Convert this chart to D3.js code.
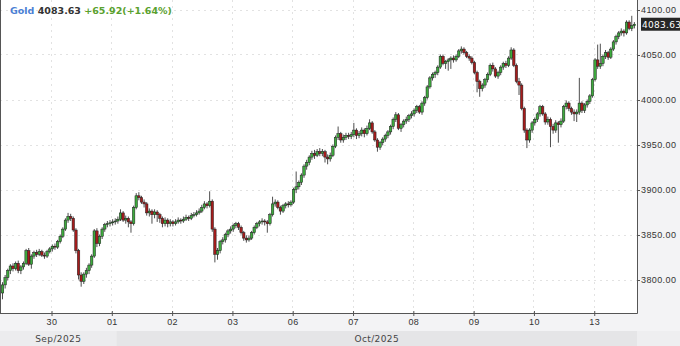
<!DOCTYPE html>
<html>
<head>
<meta charset="utf-8">
<script src="https://cdn.jsdelivr.net/npm/d3@7"></script>
<style>
  body { margin: 0; background: #fff; }
  svg { display: block; font-family: "DejaVu Sans", Verdana, sans-serif; }
</style>
</head>
<body>
<div id="chart"></div>
<script>
// hourly candles, [open, high, low, close]
const sep29 = [
  [3785,3797,3778,3794],[3794,3805,3790,3802],[3802,3812,3799,3810],[3810,3817,3806,3815],
  [3815,3818,3809,3812],[3812,3820,3810,3818],[3818,3821,3807,3810],[3810,3816,3806,3814],
  [3814,3820,3811,3818],[3818,3834,3816,3832],[3832,3835,3815,3817],[3817,3828,3812,3826],
  [3826,3832,3823,3830],[3830,3833,3825,3828],[3828,3834,3826,3831],[3831,3833,3825,3827],
  [3827,3830,3823,3826],[3826,3833,3824,3831],[3831,3836,3829,3834]
];
const sep30 = [
  [3834,3839,3831,3837],[3837,3840,3833,3836],[3836,3844,3834,3842],[3842,3850,3840,3848],
  [3848,3858,3846,3856],[3856,3868,3854,3866],[3866,3874,3863,3870],[3870,3873,3865,3868],
  [3868,3870,3853,3855],[3855,3857,3829,3832],[3832,3834,3800,3805],[3805,3808,3792,3798],
  [3798,3808,3795,3806],[3806,3813,3802,3810],[3810,3818,3806,3816],[3816,3828,3813,3826],
  [3826,3856,3824,3854],[3854,3857,3836,3840],[3840,3850,3837,3848],[3848,3858,3845,3856],
  [3856,3863,3853,3861],[3861,3865,3858,3862],[3862,3866,3859,3863]
];
const oct01 = [
  [3863,3867,3860,3864],[3864,3868,3861,3865],[3865,3870,3862,3867],[3867,3878,3865,3874],
  [3874,3876,3864,3866],[3866,3871,3862,3868],[3868,3870,3858,3864],[3864,3866,3852,3862],
  [3862,3882,3860,3880],[3880,3896,3878,3893],[3893,3897,3888,3891],[3891,3893,3884,3886],
  [3886,3889,3880,3884],[3884,3886,3871,3874],[3874,3879,3870,3876],[3876,3878,3862,3872],
  [3872,3878,3868,3875],[3875,3877,3864,3872],[3872,3874,3863,3868],[3868,3870,3858,3862],
  [3862,3869,3859,3866],[3866,3868,3858,3862],[3862,3867,3859,3864]
];
const oct02 = [
  [3864,3866,3859,3862],[3862,3867,3860,3864],[3864,3869,3862,3866],[3866,3868,3862,3865],
  [3865,3870,3863,3867],[3867,3872,3865,3869],[3869,3871,3865,3868],[3868,3874,3866,3871],
  [3871,3875,3869,3872],[3872,3877,3870,3874],[3874,3879,3872,3876],[3876,3883,3874,3880],
  [3880,3887,3878,3884],[3884,3886,3879,3882],[3882,3898,3880,3887],[3887,3889,3853,3856],
  [3856,3858,3819,3828],[3828,3835,3822,3832],[3832,3844,3829,3842],[3842,3847,3839,3844],
  [3844,3852,3841,3850],[3850,3856,3847,3854],[3854,3859,3851,3856]
];
const oct03 = [
  [3856,3862,3853,3860],[3860,3864,3857,3862],[3862,3864,3855,3858],[3858,3860,3850,3852],
  [3852,3854,3843,3846],[3846,3849,3841,3844],[3844,3849,3842,3846],[3846,3854,3844,3852],
  [3852,3860,3850,3858],[3858,3864,3856,3862],[3862,3866,3859,3864],[3864,3868,3861,3865],
  [3865,3867,3860,3864],[3864,3866,3852,3862],[3862,3874,3860,3872],[3872,3892,3870,3884],
  [3884,3889,3881,3886],[3886,3888,3878,3880],[3880,3882,3872,3876],[3876,3884,3874,3882],
  [3882,3886,3879,3884],[3884,3887,3880,3883],[3883,3888,3881,3886]
];
const oct06 = [
  [3886,3902,3884,3900],[3900,3920,3896,3903],[3903,3910,3900,3908],[3908,3918,3905,3916],
  [3916,3928,3913,3926],[3926,3933,3922,3930],[3930,3938,3927,3936],[3936,3943,3933,3940],
  [3940,3944,3934,3938],[3938,3945,3936,3942],[3942,3946,3937,3940],[3940,3945,3937,3942],
  [3942,3944,3930,3936],[3936,3939,3928,3934],[3934,3941,3931,3938],[3938,3950,3936,3948],
  [3948,3960,3946,3958],[3958,3970,3955,3962],[3962,3964,3952,3955],[3955,3961,3952,3958],
  [3958,3963,3955,3960],[3960,3963,3956,3959],[3959,3964,3956,3961]
];
const oct07 = [
  [3961,3974,3958,3966],[3966,3968,3956,3960],[3960,3965,3957,3962],[3962,3969,3959,3966],
  [3966,3968,3958,3962],[3962,3971,3960,3968],[3968,3978,3966,3974],[3974,3976,3962,3964],
  [3964,3966,3953,3955],[3955,3957,3942,3947],[3947,3954,3944,3952],[3952,3958,3949,3956],
  [3956,3962,3953,3960],[3960,3966,3957,3964],[3964,3972,3961,3970],[3970,3980,3967,3978],
  [3978,3986,3975,3983],[3983,3985,3966,3968],[3968,3974,3964,3972],[3972,3978,3969,3976],
  [3976,3981,3973,3978],[3978,3984,3975,3982],[3982,3987,3979,3984]
];
const oct08 = [
  [3984,3990,3981,3988],[3988,3994,3985,3992],[3992,3994,3984,3986],[3986,3998,3983,3996],
  [3996,4004,3993,4002],[4002,4016,4000,4014],[4014,4026,4012,4024],[4024,4030,4021,4028],
  [4028,4032,4024,4030],[4030,4038,4027,4036],[4036,4050,4034,4048],[4048,4050,4038,4040],
  [4040,4044,4034,4042],[4042,4046,4032,4044],[4044,4048,4034,4046],[4046,4049,4041,4044],
  [4044,4050,4042,4048],[4048,4056,4046,4054],[4054,4059,4051,4056],[4056,4058,4050,4052],
  [4052,4054,4046,4048],[4048,4050,4043,4046],[4046,4048,4039,4041]
];
const oct09 = [
  [4041,4043,4028,4030],[4030,4032,4008,4020],[4020,4022,4003,4012],[4012,4018,4009,4016],
  [4016,4024,4013,4022],[4022,4030,4019,4028],[4028,4040,4026,4038],[4038,4041,4031,4034],
  [4034,4036,4024,4026],[4026,4032,4023,4030],[4030,4038,4027,4036],[4036,4042,4033,4040],
  [4040,4043,4035,4038],[4038,4048,4036,4046],[4046,4058,4044,4055],[4055,4057,4036,4038],
  [4038,4040,4018,4020],[4020,4024,4005,4016],[4016,4018,3988,3990],[3990,3992,3963,3966],
  [3966,3968,3946,3955],[3955,3968,3952,3966],[3966,3976,3963,3974]
];
const oct10 = [
  [3974,3980,3971,3978],[3978,3986,3975,3984],[3984,3994,3981,3992],[3992,3994,3982,3984],
  [3984,3986,3972,3975],[3975,3981,3972,3978],[3978,3980,3947,3970],[3970,3973,3962,3966],
  [3966,3977,3963,3974],[3974,3976,3952,3972],[3972,3979,3969,3976],[3976,3994,3974,3992],
  [3992,3999,3989,3996],[3996,3998,3987,3990],[3990,3992,3983,3986],[3986,3989,3976,3984],
  [3984,3989,3975,3986],[3986,4024,3983,3996],[3996,3998,3985,3988],[3988,3996,3985,3994],
  [3994,4000,3991,3998],[3998,4006,3995,4004],[4004,4024,4002,4022]
];
const oct13 = [
  [4022,4046,4020,4044],[4044,4061,4034,4037],[4037,4062,4034,4040],[4040,4050,4037,4048],
  [4048,4055,4045,4052],[4052,4054,4044,4047],[4047,4058,4045,4056],[4056,4066,4054,4064],
  [4064,4072,4061,4070],[4070,4076,4067,4074],[4074,4079,4071,4076],[4076,4078,4070,4074],
  [4074,4088,4072,4086],[4086,4088,4077,4079],[4079,4093,4076,4082],[4082,4086,4079,4083.63]
];

const days = [sep29, sep30, oct01, oct02, oct03, oct06, oct07, oct08, oct09, oct10, oct13];
const dayLabels = ["", "30", "01", "02", "03", "06", "07", "08", "09", "10", "13"];
const monthLabels = ["Sep/2025", "Oct/2025"];
const monthStartDay = [0, 2];   // index into days
const monthStartHour = [0, 2];  // candle offset inside that day
const yTicks = [3800, 3850, 3900, 3950, 4000, 4050, 4100];
const symbol = "Gold";
const lastPrice = 4083.63;
const change = 65.92;
const changePct = 1.64;

const W = 680, H = 346;
const plotR = 637, plotB = 313;

// flatten candles, remember where each day starts
const candles = [];
const dayStarts = [];
days.forEach(d => {
  dayStarts.push(candles.length);
  d.forEach(c => candles.push({ o: c[0], h: c[1], l: c[2], c: c[3] }));
});
const n = candles.length;

const x = d3.scaleLinear().domain([0, n]).range([1.2, 635.7]);
const y = d3.scaleLinear().domain([3800, 4100]).range([279.5, 9.5]);

const svg = d3.select('#chart').append('svg')
  .attr('width', W)
  .attr('height', H);

svg.append('rect').attr('width', W).attr('height', H).attr('fill', '#fff');
svg.append('rect').attr('x', plotR).attr('y', 0).attr('width', W - plotR).attr('height', plotB).attr('fill', '#f3f3f5');
svg.append('rect').attr('x', 0).attr('y', plotB).attr('width', W).attr('height', 18).attr('fill', '#f3f3f5');
svg.append('rect').attr('x', 0).attr('y', plotB + 18).attr('width', W).attr('height', H - plotB - 18).attr('fill', '#eeeef0');

// month bands
const mStarts = monthStartDay.map((d, i) => x(dayStarts[d] + monthStartHour[i]));
monthLabels.forEach((m, i) => {
  const x0 = i === 0 ? 0 : mStarts[i];
  const x1 = i === monthLabels.length - 1 ? plotR : mStarts[i + 1];
  svg.append('rect')
    .attr('x', x0).attr('y', plotB + 18).attr('width', x1 - x0).attr('height', H - plotB - 18)
    .attr('fill', i % 2 ? '#e5e5e7' : '#ececee');
  svg.append('text')
    .attr('x', (x0 + x1) / 2).attr('y', plotB + 28.5)
    .attr('text-anchor', 'middle')
    .style('font-size', '9px').style('letter-spacing', '0.4px')
    .attr('fill', '#444')
    .text(m);
});

// grid
const grid = svg.append('g').attr('stroke', '#e2e2e2').attr('stroke-dasharray', '2,4');
grid.selectAll('line.h').data(yTicks).enter().append('line')
  .attr('x1', 0).attr('x2', plotR)
  .attr('y1', d => Math.round(y(d)) + 0.5).attr('y2', d => Math.round(y(d)) + 0.5);
grid.selectAll('line.v').data(dayStarts.slice(1)).enter().append('line')
  .attr('x1', d => Math.round(x(d)) + 0.5).attr('x2', d => Math.round(x(d)) + 0.5)
  .attr('y1', 0).attr('y2', plotB);

// candles
const g = svg.append('g');
g.selectAll('line.wick').data(candles).enter().append('line')
  .attr('x1', (d, i) => x(i + 0.5)).attr('x2', (d, i) => x(i + 0.5))
  .attr('y1', d => y(d.h)).attr('y2', d => y(d.l))
  .attr('stroke', '#3a3a3a').attr('stroke-width', 0.9);
g.selectAll('rect.body').data(candles).enter().append('rect')
  .attr('x', (d, i) => x(i + 0.5) - 1.25)
  .attr('width', 2.5)
  .attr('y', d => y(Math.max(d.o, d.c)))
  .attr('height', d => Math.max(0.8, Math.abs(y(d.o) - y(d.c))))
  .attr('fill', d => d.c >= d.o ? '#3daa3d' : '#a51c1c')
  .attr('stroke', '#1c1c1c').attr('stroke-width', 0.5);

// axes
const yAxis = d3.axisRight(y).tickValues(yTicks).tickFormat(d3.format('.2f')).tickSize(3).tickSizeOuter(0);
const ya = svg.append('g').attr('transform', `translate(${plotR},0.5)`).call(yAxis);
ya.select('.domain').remove();
ya.selectAll('line').attr('stroke', '#555');
ya.selectAll('text').attr('x', 4).attr('fill', '#333').style('font-size', '9px').style('letter-spacing', '0.4px').attr('font-family', null);

const xAxis = d3.axisBottom(x).tickValues(dayStarts.slice(1)).tickFormat((d, i) => dayLabels[i + 1]).tickSize(3).tickSizeOuter(0);
const xa = svg.append('g').attr('transform', `translate(0.5,${plotB})`).call(xAxis);
xa.select('.domain').remove();
xa.selectAll('line').attr('stroke', '#555').attr('y1', -2);
xa.selectAll('text').attr('y', 6).attr('fill', '#333').style('font-size', '9px').style('letter-spacing', '0.4px').attr('font-family', null);

svg.append('line').attr('x1', 0).attr('x2', plotR + 0.5).attr('y1', plotB + 0.5).attr('y2', plotB + 0.5).attr('stroke', '#555');
svg.append('line').attr('x1', plotR + 0.5).attr('x2', plotR + 0.5).attr('y1', 0).attr('y2', plotB + 0.5).attr('stroke', '#555');
svg.append('line').attr('x1', 0.5).attr('x2', 0.5).attr('y1', 0).attr('y2', plotB).attr('stroke', '#555');

// last price tag
svg.append('rect')
  .attr('x', plotR + 4).attr('y', y(lastPrice) - 6.5).attr('width', W - plotR - 4).attr('height', 13)
  .attr('fill', '#262626');
svg.append('text')
  .attr('x', plotR + 5).attr('y', y(lastPrice) + 3.3)
  .attr('fill', '#fff').style('font-size', '9px').style('letter-spacing', '0.3px')
  .text(lastPrice.toFixed(2));

// title
const t = svg.append('text').attr('x', 10).attr('y', 14).style('font-size', '9.5px').style('font-weight', 'bold');
t.append('tspan').attr('fill', '#4a7fd4').text(symbol + ' ');
t.append('tspan').attr('fill', '#333').text(lastPrice.toFixed(2) + ' ');
t.append('tspan').attr('fill', '#5aa12e').text(`+${change.toFixed(2)}(+${changePct.toFixed(2)}%)`);
</script>
</body>
</html>
